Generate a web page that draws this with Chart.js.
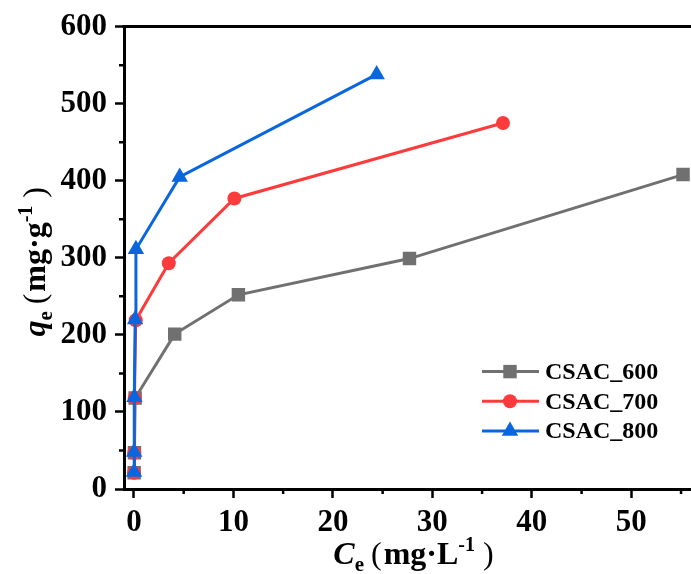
<!DOCTYPE html>
<html>
<head>
<meta charset="utf-8">
<script src="https://cdn.jsdelivr.net/npm/chart.js@4/dist/chart.umd.min.js"></script>
<style>
    html, body { margin: 0; padding: 0; background: #ffffff; }
    #wrap { width: 691px; height: 574px; }
</style>
</head>
<body>
<div id="wrap"><canvas id="graficoIsoterma"></canvas></div>
<script>

// datos
const series = ["CSAC_600", "CSAC_700", "CSAC_800"];

const ce600 = [0.02, 0.05, 0.12, 4.1, 10.5, 27.7, 55.2];
const qe600 = [21, 47, 118, 201, 252, 299, 408];

const ce700 = [0.01, 0.03, 0.07, 0.18, 3.5, 10.1, 37.1];
const qe700 = [21, 47, 118, 219, 293, 377, 475];

const ce800 = [0.01, 0.02, 0.05, 0.12, 0.2, 4.6, 24.4];
const qe800 = [22, 48, 119, 220, 311, 405, 538];

const xTicks = [0, 10, 20, 30, 40, 50];
const xMinor = [5, 15, 25, 35, 45, 55];
const yTicks = [0, 100, 200, 300, 400, 500, 600];
const yMinor = [50, 150, 250, 350, 450, 550];

const colores = ["#707070", "#fc3c3c", "#0a66de"];
const marcas = ["rect", "circle", "triangle"];
const radios = [9.5, 7, 9.5];

const serif = '"Liberation Serif", "Times New Roman", serif';

function puntos(xs, ys) {
    return xs.map((x, i) => ({ x: x, y: ys[i] }));
}

const datosSeries = [
    puntos(ce600, qe600),
    puntos(ce700, qe700),
    puntos(ce800, qe800)
];

// texto con subindices y superindices
function textoRico(ctx, partes, cx, cy, rotar) {

    let total = 0;
    partes.forEach(p => {
        ctx.font = p.font;
        p.w = p.gap !== undefined ? p.gap : ctx.measureText(p.t).width;
        total += p.w;
    });

    ctx.save();
    ctx.translate(cx, cy);
    if (rotar) ctx.rotate(-Math.PI / 2);
    ctx.fillStyle = "#000";
    ctx.textBaseline = "alphabetic";
    ctx.textAlign = "left";

    let x = -total / 2;
    partes.forEach(p => {
        if (p.gap === undefined) {
            ctx.font = p.font;
            ctx.fillText(p.t, x, p.dy || 0);
        }
        x += p.w;
    });
    ctx.restore();
}

function partesTitulo(letra, unidad) {
    return [
        { t: letra, font: "italic bold 32px " + serif },
        { t: "e", font: "bold 21px " + serif, dy: 7 },
        { gap: 7 },
        { t: "(", font: "32px " + serif },
        { gap: 2 },
        { t: unidad, font: "bold 32px " + serif },
        { t: "-1", font: "bold 20px " + serif, dy: -13 },
        { gap: 8 },
        { t: ")", font: "32px " + serif }
    ];
}

function dibujarMarca(ctx, estilo, r, x, y) {
    ctx.beginPath();
    if (estilo === "rect") {
        const s = Math.SQRT1_2 * r;
        ctx.rect(x - s, y - s, 2 * s, 2 * s);
    } else if (estilo === "circle") {
        ctx.arc(x, y, r, 0, Math.PI * 2);
    } else {
        ctx.moveTo(x, y - r);
        ctx.lineTo(x + r * Math.sin(Math.PI / 3), y + r / 2);
        ctx.lineTo(x - r * Math.sin(Math.PI / 3), y + r / 2);
        ctx.closePath();
    }
    ctx.fill();
}

const extras = {

    id: "extras",

    afterDraw(chart) {

        const ctx = chart.ctx;
        const area = chart.chartArea;
        const sx = chart.scales.x;
        const sy = chart.scales.y;

        ctx.save();

        // marco superior
        ctx.strokeStyle = "#000";
        ctx.lineWidth = 3;
        ctx.beginPath();
        ctx.moveTo(area.left - 1.5, area.top);
        ctx.lineTo(area.right, area.top);
        ctx.stroke();

        // ticks menores
        ctx.lineWidth = 2.5;
        ctx.beginPath();
        xMinor.forEach(v => {
            const px = sx.getPixelForValue(v);
            ctx.moveTo(px, area.bottom);
            ctx.lineTo(px, area.bottom + 5);
        });
        yMinor.forEach(v => {
            const py = sy.getPixelForValue(v);
            ctx.moveTo(area.left, py);
            ctx.lineTo(area.left - 5, py);
        });
        ctx.stroke();

        // titulos de ejes
        textoRico(ctx, partesTitulo("C", "mg·L"),
            (area.left + area.right) / 2 + 6, 564, false);
        textoRico(ctx, partesTitulo("q", "mg·g"),
            45, (area.top + area.bottom) / 2 + 4, true);

        // leyenda
        const lx = area.right - 209;
        let ly = area.top + 345;

        chart.data.datasets.forEach((ds, i) => {

            ctx.strokeStyle = ds.borderColor;
            ctx.fillStyle = ds.backgroundColor;
            ctx.lineWidth = 3;
            ctx.beginPath();
            ctx.moveTo(lx, ly);
            ctx.lineTo(lx + 57, ly);
            ctx.stroke();

            dibujarMarca(ctx, ds.pointStyle, ds.pointRadius, lx + 28, ly);

            ctx.fillStyle = "#000";
            ctx.font = "bold 24px " + serif;
            ctx.textBaseline = "middle";
            ctx.fillText(ds.label, lx + 63, ly + 1);

            ly += 29.7;

        });

        ctx.restore();
    }
};

new Chart(

    document.getElementById("graficoIsoterma"),

    {

        type: "scatter",

        data: {

            datasets: series.map((nombre, i) => ({

                label: nombre,
                data: datosSeries[i],
                showLine: true,
                borderColor: colores[i],
                backgroundColor: colores[i],
                borderWidth: 3,
                pointStyle: marcas[i],
                pointRadius: radios[i],
                pointHoverRadius: radios[i],
                pointBackgroundColor: colores[i],
                pointBorderColor: colores[i],
                pointBorderWidth: 0,
                order: 3 - i

            }))

        },

        options: {

            responsive: true,
            maintainAspectRatio: false,
            animation: false,
            events: [],

            layout: {
                autoPadding: false,
                padding: { top: 24, right: 0, left: 0, bottom: 0 }
            },

            plugins: {
                legend: { display: false },
                tooltip: { enabled: false }
            },

            scales: {

                x: {
                    type: "linear",
                    min: -1,
                    max: 56,
                    afterFit: s => {
                        s.height = 85;
                        s.paddingLeft = 0;
                        s.paddingRight = 0;
                    },
                    afterBuildTicks: s => {
                        s.ticks = xTicks.map(v => ({ value: v }));
                    },
                    ticks: {
                        color: "#000",
                        padding: 6,
                        maxRotation: 0,
                        font: { family: serif, size: 31, weight: "bold" }
                    },
                    grid: {
                        drawOnChartArea: false,
                        tickLength: 9,
                        tickWidth: 2.5,
                        tickColor: "#000"
                    },
                    border: { color: "#000", width: 3 }
                },

                y: {
                    min: 0,
                    max: 600,
                    afterFit: s => { s.width = 124; },
                    afterBuildTicks: s => {
                        s.ticks = yTicks.map(v => ({ value: v }));
                    },
                    ticks: {
                        color: "#000",
                        padding: 8,
                        font: { family: serif, size: 31, weight: "bold" }
                    },
                    grid: {
                        drawOnChartArea: false,
                        tickLength: 9,
                        tickWidth: 2.5,
                        tickColor: "#000"
                    },
                    border: { color: "#000", width: 3 }
                }

            }

        },

        plugins: [extras]

    }

);

</script>
</body>
</html>
